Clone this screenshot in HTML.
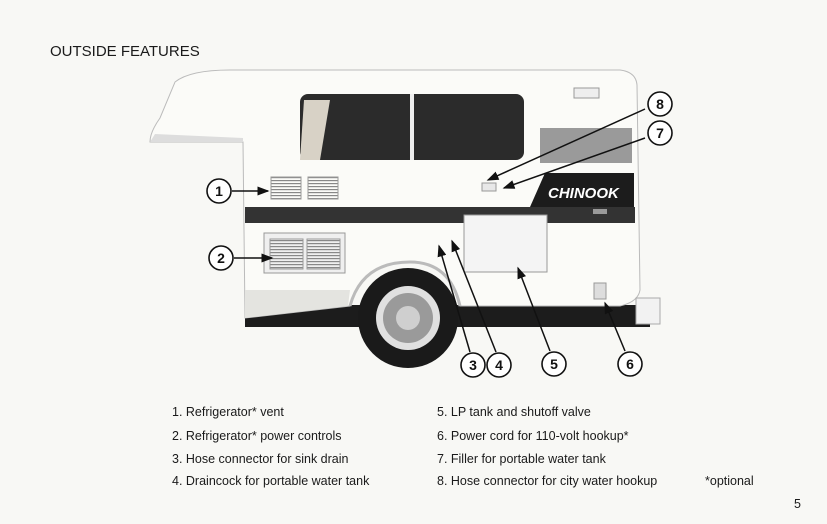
<!DOCTYPE html>
<html><head><meta charset="utf-8"><style>
body{margin:0;width:827px;height:524px;background:#f8f8f5;overflow:hidden;font-family:"Liberation Sans",sans-serif;}
svg{position:absolute;left:0;top:0}
.t{font-family:"Liberation Sans",sans-serif;font-size:12.5px;fill:#1a1a1a}
.n{font-family:"Liberation Sans",sans-serif;font-size:14px;font-weight:bold;fill:#111;text-anchor:middle}
</style></head><body>
<svg width="827" height="524" viewBox="0 0 827 524">
<defs><marker id="a" markerWidth="8" markerHeight="6" refX="7" refY="3" orient="auto"><path d="M0,0 L8,3 L0,6 z" fill="#111"/></marker>
<pattern id="lv" width="4" height="3" patternUnits="userSpaceOnUse"><rect width="4" height="1.2" fill="#888"/></pattern></defs>
<text x="50" y="56" font-size="15" fill="#1a1a1a" font-family="Liberation Sans">OUTSIDE FEATURES</text>
<rect x="245" y="305" width="405" height="22" fill="#1c1c1c"/>
<path d="M175,82 Q190,70 230,70 L620,70 Q636,72 637,85 L640,290 Q638,302 620,306 L460,306 Q450,260 410,262 Q365,262 350,306 L245,318 L243,142 L150,142 Q150,132 160,118 Z" fill="#fbfbf8" stroke="#bbb" stroke-width="1"/>
<path d="M245,290 L350,290 L348,306 L245,318 Z" fill="#e4e4e0"/>
<path d="M150,142 L243,142 L243,138 L155,134 Z" fill="#ddd"/>
<rect x="300" y="94" width="224" height="66" rx="8" fill="#2b2b2b"/>
<rect x="410" y="94" width="4" height="66" fill="#eee"/>
<path d="M304,100 L330,100 L320,160 L300,160 Z" fill="#d8d2c6"/>
<rect x="540" y="128" width="92" height="35" fill="#9a9a9a"/>
<rect x="245" y="207" width="390" height="16" fill="#333"/>
<path d="M530,207 L545,173 L634,173 L634,207 Z" fill="#1c1c1c"/>
<text x="548" y="198" font-size="15" font-weight="bold" font-style="italic" fill="#fff" font-family="Liberation Sans">CHINOOK</text>
<rect x="593" y="209" width="14" height="5" fill="#999"/>
<g stroke="#999" stroke-width="1">
<rect x="271" y="177" width="30" height="22" fill="url(#lv)"/><rect x="308" y="177" width="30" height="22" fill="url(#lv)"/>
<rect x="264" y="233" width="81" height="40" fill="#efefef"/>
<rect x="270" y="239" width="33" height="30" fill="url(#lv)"/><rect x="307" y="239" width="33" height="30" fill="url(#lv)"/>
<rect x="464" y="215" width="83" height="57" fill="#f4f4f4"/>
<rect x="594" y="283" width="12" height="16" fill="#ddd"/>
<rect x="574" y="88" width="25" height="10" fill="#eee"/>
<rect x="482" y="183" width="14" height="8" fill="#e8e8e8"/>
</g>
<rect x="636" y="298" width="24" height="26" fill="#f2f2f2" stroke="#aaa"/>
<path d="M350,306 Q362,262 410,262 Q450,262 460,306" fill="none" stroke="#bbb" stroke-width="3"/>
<circle cx="408" cy="318" r="50" fill="#1a1a1a"/>
<circle cx="408" cy="318" r="32" fill="#e0e0e0"/>
<circle cx="408" cy="318" r="25" fill="#9a9a9a"/>
<circle cx="408" cy="318" r="12" fill="#cfcfcf"/>
<g stroke="#111" stroke-width="1.5" marker-end="url(#a)">
<line x1="232" y1="191" x2="268" y2="191"/>
<line x1="234" y1="258" x2="272" y2="258"/>
<line x1="470" y1="352" x2="439" y2="246"/>
<line x1="496" y1="352" x2="452" y2="241"/>
<line x1="550" y1="351" x2="518" y2="268"/>
<line x1="625" y1="351" x2="605" y2="303"/>
<line x1="645" y1="138" x2="504" y2="188"/>
<line x1="645" y1="109" x2="488" y2="180"/>
</g>
<g fill="#fff" stroke="#111" stroke-width="1.6">
<circle cx="219" cy="191" r="12"/><circle cx="221" cy="258" r="12"/><circle cx="473" cy="365" r="12"/><circle cx="499" cy="365" r="12"/><circle cx="554" cy="364" r="12"/><circle cx="630" cy="364" r="12"/><circle cx="660" cy="133" r="12"/><circle cx="660" cy="104" r="12"/>
</g>
<text class="n" x="219" y="196">1</text><text class="n" x="221" y="263">2</text><text class="n" x="473" y="370">3</text><text class="n" x="499" y="370">4</text><text class="n" x="554" y="369">5</text><text class="n" x="630" y="369">6</text><text class="n" x="660" y="138">7</text><text class="n" x="660" y="109">8</text>
<text class="t" x="172" y="416">1.  Refrigerator* vent</text>
<text class="t" x="172" y="440">2.  Refrigerator* power controls</text>
<text class="t" x="172" y="463">3.  Hose connector for sink drain</text>
<text class="t" x="172" y="485">4.  Draincock for portable water tank</text>
<text class="t" x="437" y="416">5.  LP tank and shutoff valve</text>
<text class="t" x="437" y="440">6.  Power cord for 110-volt hookup*</text>
<text class="t" x="437" y="463">7.  Filler for portable water tank</text>
<text class="t" x="437" y="485">8.  Hose connector for city water hookup</text>
<text class="t" x="705" y="485">*optional</text>
<text class="t" x="794" y="508" font-size="14">5</text>
</svg>
</body></html>
